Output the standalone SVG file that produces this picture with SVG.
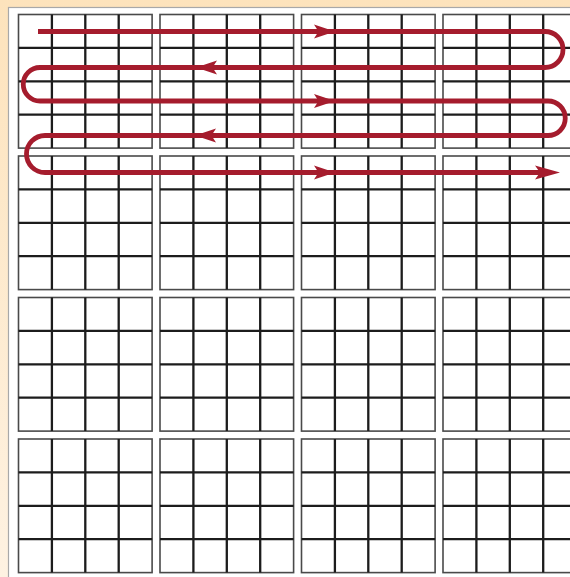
<svg xmlns="http://www.w3.org/2000/svg" xmlns:xlink="http://www.w3.org/1999/xlink" width="570" height="577" viewBox="0 0 570 577">
<style>
.cellrect{fill:#fff;stroke:#4a4a4a;stroke-width:1.6}
.inner{stroke:#1c1c1c;stroke-width:2.3}
.route{fill:none;stroke:#A51C2D;stroke-width:4.8}
.head{fill:#A51C2D}
</style>
<defs>
<linearGradient id="bg" x1="0" y1="0" x2="0" y2="1">
<stop offset="0" stop-color="#FDE3BC"/>
<stop offset="1" stop-color="#FEF2E2"/>
</linearGradient>
<g id="block">
<rect class="cellrect" x="0" y="0" width="133.6" height="133.6"/>
<path class="inner" d="M33.4,0V133.6M66.8,0V133.6M100.2,0V133.6M0,33.4H133.6M0,66.8H133.6M0,100.2H133.6"/>
</g>
</defs>
<rect x="0" y="0" width="570" height="577" fill="url(#bg)"/>
<rect x="8.5" y="7.5" width="570" height="580" fill="#fff" stroke="#a8a8a8" stroke-width="1.2"/>
<g id="grid">
<use xlink:href="#block" x="18.5" y="14.5"/>
<use xlink:href="#block" x="160" y="14.5"/>
<use xlink:href="#block" x="301.5" y="14.5"/>
<use xlink:href="#block" x="443" y="14.5"/>
<use xlink:href="#block" x="18.5" y="156"/>
<use xlink:href="#block" x="160" y="156"/>
<use xlink:href="#block" x="301.5" y="156"/>
<use xlink:href="#block" x="443" y="156"/>
<use xlink:href="#block" x="18.5" y="297.5"/>
<use xlink:href="#block" x="160" y="297.5"/>
<use xlink:href="#block" x="301.5" y="297.5"/>
<use xlink:href="#block" x="443" y="297.5"/>
<use xlink:href="#block" x="18.5" y="439"/>
<use xlink:href="#block" x="160" y="439"/>
<use xlink:href="#block" x="301.5" y="439"/>
<use xlink:href="#block" x="443" y="439"/>
</g>
<g id="connectors">
<path class="route" d="M38,31.5H545A18,18 0 0 1 545,67.5H40A16.75,16.75 0 0 0 40,101H548A17.25,17.25 0 0 1 548,135.5H45A18.5,18.5 0 0 0 45,172.5H540"/>
<polygon class="head" points="335,31.5 314,24.5 318.5,31.5 314,38.5"/>
<polygon class="head" points="196,67.5 217,60.5 212.5,67.5 217,74.5"/>
<polygon class="head" points="335,101 314,94 318.5,101 314,108"/>
<polygon class="head" points="195,135.5 216,128.5 211.5,135.5 216,142.5"/>
<polygon class="head" points="335,172.5 314,165.5 318.5,172.5 314,179.5"/>
<polygon class="head" points="560,172.5 535,165.5 540,172.5 535,179.5"/>
</g>
</svg>
